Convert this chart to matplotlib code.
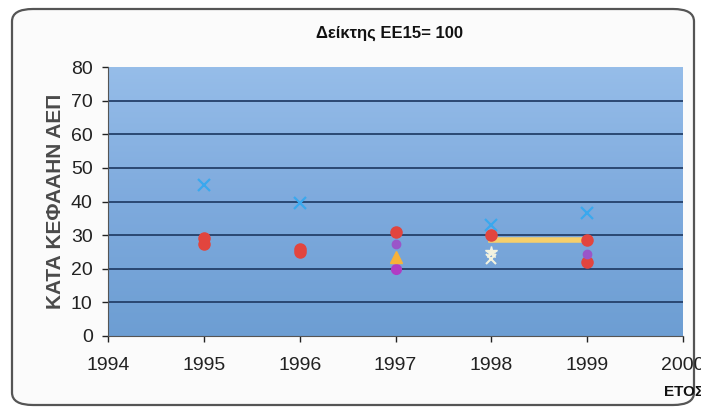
import numpy as np
import matplotlib.pyplot as plt
from matplotlib.patches import FancyBboxPatch
from matplotlib.colors import LinearSegmentedColormap

plt.rcParams['font.family'] = ['Liberation Sans', 'DejaVu Sans']

years = [1995, 1996, 1997, 1998, 1999]
nan = np.nan

# values (NaN = no mark that year)
cross_blue = [45, 39.5, nan, 33, 36.5]
red_a = [29, 26, 31, 30, 28.5]
red_b = [27.5, 25, nan, nan, 22]
purple = [nan, nan, 27.5, nan, 24.5]
orange = [nan, nan, 23.5, nan, nan]
magenta = [nan, nan, 20, nan, nan]
white_a = [nan, nan, nan, 25, nan]
white_b = [nan, nan, nan, 23, nan]
yellow_line = [nan, nan, nan, 28.5, 28.5]

fig = plt.figure(figsize=(7.01, 4.13), dpi=100)
fig.patch.set_facecolor('white')

# rounded chart border
border = FancyBboxPatch((12/701, 8/413), 682/701, 396/413,
                        boxstyle='round,pad=0,rounding_size=0.03',
                        transform=fig.transFigure, facecolor='#fbfbfb',
                        edgecolor='#555555', linewidth=1.6, zorder=-10)
fig.patches.append(border)

ax = fig.add_axes([108/701, 1 - 336/413, 575/701, 269/413])
ax.set_xlim(1994, 2000)
ax.set_ylim(0, 80)

# gradient plot area
grad = np.linspace(0, 1, 256).reshape(-1, 1)
cmap = LinearSegmentedColormap.from_list('bg', ['#6d9ed3', '#7eaadd', '#96bde9'])
ax.imshow(grad, extent=[1994, 2000, 0, 80], origin='lower', aspect='auto',
          cmap=cmap, zorder=0)

for v in range(10, 80, 10):
    ax.axhline(v, color='#24406a', linewidth=1.3, zorder=1)

ax.plot(years, yellow_line, color='#f6cf6a', linewidth=4, zorder=2)
ax.plot(years, cross_blue, 'x', color='#3aa8ee', markersize=9, mew=1.6, zorder=3)
ax.plot(years, red_a, 'o', color='#e2453e', markersize=8, zorder=3)
ax.plot(years, red_b, 'o', color='#e2453e', markersize=8, zorder=3)
ax.plot(years, purple, 'o', color='#9a55c9', markersize=6, zorder=3)
ax.plot(years, orange, '^', color='#f7b23a', markersize=8, zorder=4)
ax.plot(years, magenta, 'o', color='#b03cc4', markersize=7, zorder=3)
ax.plot(years, white_a, '*', color='#f3f3e0', markersize=9, zorder=4)
ax.plot(years, white_b, 'x', color='#f3f3e0', markersize=7, mew=1.5, zorder=4)

ax.set_xticks(range(1994, 2001))
ax.set_yticks(range(0, 81, 10))
ax.tick_params(labelsize=14, colors='#222222', length=4, width=1,
               direction='out', pad=7)
ax.tick_params(axis='x', pad=11)
for s in ['top', 'right']:
    ax.spines[s].set_visible(False)
ax.spines['left'].set_color('#555555')
ax.spines['bottom'].set_color('#555555')

ax.set_ylabel('ΚΑΤΑ ΚΕΦΑΑΗΝ ΑΕΠ', fontsize=15, fontweight='bold',
              color='#4a4a4a', labelpad=4)
fig.text(0.555, 1 - 33/413, 'Δείκτης ΕΕ15= 100', ha='center', va='center',
         fontsize=12, fontweight='bold', color='#111111')
fig.text(664/701, 1 - 392/413, 'ΕΤΟΣ', ha='left', va='center',
         fontsize=11, fontweight='bold', color='#111111')

fig.savefig('out.png', dpi=100)
